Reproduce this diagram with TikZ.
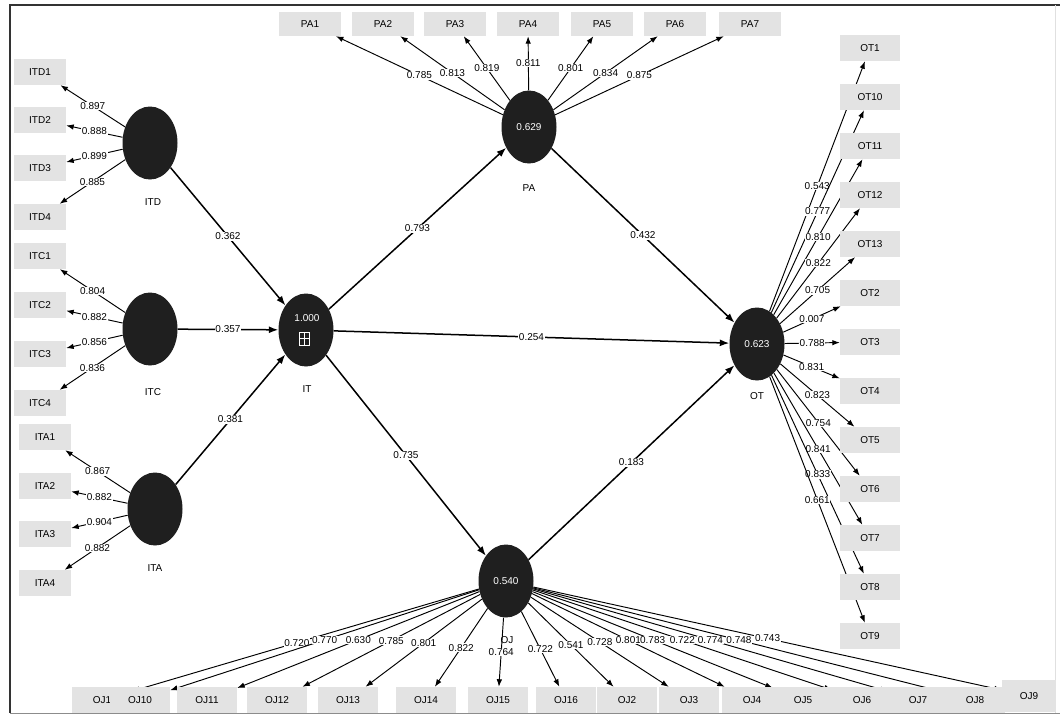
\documentclass[tikz,border=0pt]{standalone}
\usepackage{fontspec}
\setmainfont{Liberation Sans}
\usetikzlibrary{shapes.geometric,arrows.meta,backgrounds}
\newcommand\plsfont{\fontsize{10}{12}\selectfont}
\begin{document}
\begin{tikzpicture}[x=1pt,y=-1pt,
  lv/.style={ellipse, fill=black!88, draw=none, minimum width=55pt,
    minimum height=73pt, inner sep=0pt, text=white, font=\plsfont},
  lvname/.style={font=\plsfont, inner sep=1pt},
  ind/.style={rectangle, fill=black!11, draw=none, inner sep=0pt,
    minimum width=60pt, minimum height=26pt, font=\plsfont},
  ld/.style={line width=0.95pt, -{Latex[length=7.5pt,width=5.5pt]}},
  sp/.style={line width=1.5pt, -{Latex[length=9.5pt,width=7pt]}},
  val/.style={fill=white, inner sep=0.6pt, font=\plsfont}]
\useasboundingbox (0,0) rectangle (1060,715);
\begin{scope}[on background layer]
  \fill[white] (0,0) rectangle (1060,715);
\end{scope}

% frame
\draw[line width=1.5pt, black!80] (1060,5) -- (10,5) -- (10,713);
\draw[line width=0.8pt, black!45] (10,713) -- (1060,713);
\draw[line width=0.5pt, black!12] (1055,5) -- (1055,713);

% latent variables
\node[lv] (ITD) at (150,143) {};
\node[lv] (ITC) at (150,329) {};
\node[lv] (ITA) at (155,509) {};
\node[lv] (IT)  at (306,330) {};
\node[lv] (PA)  at (529,127) {0.629};
\node[lv] (OT)  at (757,344) {0.623};
\node[lv] (OJ)  at (506,581) {0.540};

% R-square and block icon of IT
\node[font=\plsfont, text=white, inner sep=0pt] (ITr) at (307,318) {1.000};
\draw[white, line width=0.8pt] (299,332) rectangle (309,345);
\draw[white, line width=0.6pt] (304,332) -- (304,345) (299,338.5) -- (309,338.5);

% latent variable names
\node[lvname] (nITD) at (153,202) {ITD};
\node[lvname] (nITC) at (153,392) {ITC};
\node[lvname] (nITA) at (155,568) {ITA};
\node[lvname] (nIT)  at (307,389) {IT};
\node[lvname] (nPA)  at (529,188) {PA};
\node[lvname] (nOT)  at (757,396) {OT};
\node[lvname] (nOJ)  at (507,640) {OJ};

% indicators
\foreach \n/\y in {1/72,2/120,3/168,4/217}
  \node[ind, minimum width=52pt] (ITD\n) at (40,\y) {ITD\n};
\foreach \n/\y in {1/256,2/305,3/354,4/403}
  \node[ind, minimum width=52pt] (ITC\n) at (40,\y) {ITC\n};
\foreach \n/\y in {1/437,2/486,3/534,4/583}
  \node[ind, minimum width=52pt] (ITA\n) at (45,\y) {ITA\n};
\foreach \n/\x in {1/310,2/383,3/455,4/528,5/602,6/675,7/750}
  \node[ind, minimum width=62pt, minimum height=24pt] (PA\n) at (\x,24) {PA\n};
\foreach \n/\y in {1/48,10/97,11/146,12/195,13/244,2/293,3/342,4/391,5/440,6/489,7/538,8/587,9/636}
  \node[ind] (OT\n) at (870,\y) {OT\n};
\foreach \n/\x in {1/102,10/140,11/207,12/277,13/348,14/426,15/498,16/566,2/627,3/689,4/752,5/803,6/862,7/918,8/975}
  \node[ind] (OJ\n) at (\x,700) {OJ\n};
\node[ind, minimum width=54pt, minimum height=32pt] (OJ9) at (1029,696) {OJ9};

% outer loadings
\begin{scope}[on background layer]
  \foreach \n/\v in {1/0.897,2/0.888,3/0.899,4/0.885}
    \draw[ld] (ITD) -- (ITD\n) node[val, midway] {\v};
  \foreach \n/\v in {1/0.804,2/0.882,3/0.856,4/0.836}
    \draw[ld] (ITC) -- (ITC\n) node[val, midway] {\v};
  \foreach \n/\v in {1/0.867,2/0.882,3/0.904,4/0.882}
    \draw[ld] (ITA) -- (ITA\n) node[val, midway] {\v};
  \foreach \n/\v in {1/0.785,2/0.813,3/0.819,4/0.811,5/0.801,6/0.834,7/0.875}
    \draw[ld] (PA) -- (PA\n) node[val, midway] {\v};
  \foreach \n/\v in {1/0.543,10/0.777,11/0.810,12/0.822,13/0.705,2/0.007,3/0.788,4/0.831,5/0.823,6/0.754,7/0.841,8/0.833,9/0.661}
    \draw[ld] (OT) -- (OT\n) node[val, midway] {\v};
  \draw[ld] (OJ) -- (OJ1) node[val, pos=0.525] {0.720};
  \foreach \n/\v in {10/0.770,11/0.630,12/0.785,13/0.801,14/0.822,15/0.764,16/0.722,2/0.541,3/0.728,4/0.801,5/0.783,6/0.722,7/0.774,8/0.748,9/0.743}
    \draw[ld] (OJ) -- (OJ\n) node[val, midway] {\v};
\end{scope}

% structural paths
\draw[sp] (ITD) -- (IT) node[val, midway] {0.362};
\draw[sp] (ITC) -- (IT) node[val, midway] {0.357};
\draw[sp] (ITA) -- (IT) node[val, midway] {0.381};
\draw[sp] (IT) -- (PA) node[val, midway] {0.793};
\draw[sp] (IT) -- (OT) node[val, midway] {0.254};
\draw[sp] (IT) -- (OJ) node[val, midway] {0.735};
\draw[sp] (PA) -- (OT) node[val, midway] {0.432};
\draw[sp] (OJ) -- (OT) node[val, midway] {0.183};
\end{tikzpicture}
\end{document}
